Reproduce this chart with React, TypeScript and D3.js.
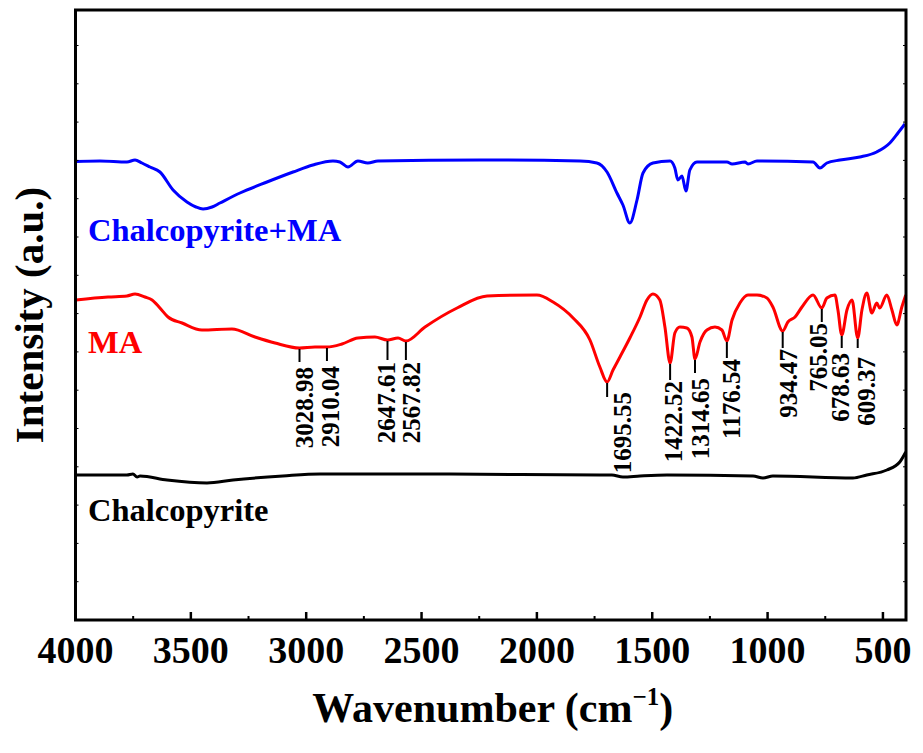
import React from "react"
import * as d3 from "d3"

// wavenumber (cm-1) / intensity (a.u.) pairs
const blueWave = [3998, 3894, 3777, 3742, 3712, 3677, 3634, 3577, 3517, 3478, 3447, 3408, 3374, 3287, 3170, 3057, 2971, 2884, 2854, 2819, 2776, 2733, 2689, 2247, 1813, 1740, 1696, 1653, 1627, 1597, 1566, 1540, 1497, 1423, 1402, 1389, 1371, 1354, 1337, 1306, 1176, 1154, 1098, 1085, 1046, 803, 773, 743, 686, 600, 527, 470, 435, 405]
const blueVal = [45.85, 45.9, 45.8, 46.0, 45.7, 45.3, 44.8, 43.0, 41.8, 41.3, 41.1, 41.3, 41.7, 42.7, 43.8, 44.8, 45.5, 45.9, 45.8, 45.3, 45.9, 45.7, 45.9, 46.0, 45.9, 45.7, 44.8, 42.7, 41.5, 39.7, 42.0, 44.7, 45.7, 45.9, 45.2, 44.0, 44.4, 42.9, 45.0, 45.8, 45.8, 45.6, 45.8, 45.6, 45.9, 45.8, 45.2, 45.7, 46.0, 46.3, 46.8, 47.7, 48.7, 49.6]

const redWave = [3998, 3859, 3777, 3742, 3699, 3668, 3634, 3599, 3538, 3452, 3322, 3222, 3135, 3028.98, 2962, 2910.04, 2845, 2776, 2702, 2647.61, 2602, 2567.82, 2485, 2346, 2216, 2000, 1930, 1843, 1770, 1727, 1695.55, 1670, 1640, 1597, 1553, 1523, 1497, 1467, 1445, 1422.52, 1402, 1380, 1350, 1328, 1314.65, 1293, 1263, 1228, 1198, 1176.54, 1154, 1120, 1085, 1046, 1003, 977, 934.47, 912, 881, 851, 803, 765.05, 743, 708, 695, 678.63, 656, 634, 609.37, 591, 570, 548, 527, 514, 483, 461, 440, 418, 401]
const redVal = [32.0, 32.3, 32.4, 32.6, 32.3, 32.0, 31.2, 30.3, 29.7, 29.0, 29.1, 28.3, 27.7, 27.2, 27.3, 27.3, 27.6, 28.2, 28.3, 28.0, 28.2, 27.9, 29.3, 31.2, 32.4, 32.5, 31.8, 30.2, 28.0, 25.3, 23.8, 25.0, 26.3, 28.2, 30.3, 32.0, 32.6, 32.0, 29.3, 25.7, 28.7, 29.3, 29.2, 28.3, 26.1, 27.8, 29.0, 29.3, 29.0, 27.9, 30.0, 31.7, 32.5, 32.5, 32.2, 31.3, 28.9, 29.8, 30.3, 31.3, 32.5, 31.2, 32.2, 32.5, 31.0, 28.5, 31.0, 32.0, 28.2, 31.0, 32.7, 30.7, 31.7, 31.2, 32.5, 31.0, 29.5, 31.3, 32.5]

const blackWave = [3998, 3777, 3751, 3733, 3720, 3603, 3430, 3317, 3101, 2940, 2377, 1727, 1675, 1627, 1553, 1436, 1063, 1020, 977, 630, 570, 483, 427, 401]
const blackVal = [14.5, 14.5, 14.6, 14.3, 14.4, 14.0, 13.7, 14.0, 14.4, 14.6, 14.6, 14.5, 14.5, 14.3, 14.4, 14.5, 14.4, 14.2, 14.4, 14.2, 14.5, 15.0, 15.8, 16.8]

const peaks = [3028.98, 2910.04, 2647.61, 2567.82, 1695.55, 1422.52, 1314.65, 1176.54, 934.47, 765.05, 678.63, 609.37]

const xTicks = [4000, 3500, 3000, 2500, 2000, 1500, 1000, 500]
const xMinorTicks = [3750, 3250, 2750, 2250, 1750, 1250, 750]

// hand placed label nudges: [dx, line length, gap to text]
const peakLayout = [
  [5, 14, 5], [3.5, 14, 5], [-1, 20, 2], [6, 19, 2], [15, 15, -5], [3, 17, 1],
  [6, 14, 5], [5, 17, 1], [6, 17, 1], [-3, 14, 1], [-1, 13, 5], [9, 10, 9],
]

const W = 923
const H = 753
const margin = { left: 75.5, right: 17, top: 10, bottom: 133 }
const serif = "'Liberation Serif', 'Times New Roman', serif"

export default function App() {
  const x = d3.scaleLinear().domain([4000, 400]).range([margin.left, W - margin.right])
  const y = d3.scaleLinear().domain([0, 61]).range([H - margin.bottom, margin.top])
  const yTicks = d3.range(3.83, 61, 3.83)

  const line = d3.line<[number, number]>()
    .x((d) => x(d[0]))
    .y((d) => y(d[1]))
    .curve(d3.curveMonotoneX)

  const series = [
    { wave: blueWave, val: blueVal, color: "#0000ff" },
    { wave: redWave, val: redVal, color: "#ff0000" },
    { wave: blackWave, val: blackVal, color: "#000000" },
  ]

  const x0 = x(4000)
  const x1 = x(400)
  const y0 = y(0)
  const y1 = y(61)

  return (
    <div style={{ position: "absolute", left: 0, top: 0 }}>
      <svg width={W} height={H} style={{ display: "block", background: "#fff" }} fontFamily={serif}>
        {series.map((s, i) => (
          <path
            key={i}
            d={line(s.wave.map((w, j) => [w, s.val[j]] as [number, number])) || ""}
            fill="none"
            stroke={s.color}
            strokeWidth={3}
            strokeLinejoin="round"
          />
        ))}

        {/* peak markers on the MA spectrum */}
        {peaks.map((p, i) => {
          const j = redWave.indexOf(p)
          const [dx, len, gap] = peakLayout[i]
          const px = x(p)
          const py = y(redVal[j])
          const ty = py + len + gap
          return (
            <g key={p}>
              <line x1={px} x2={px} y1={py + 1} y2={py + len} stroke="#000" strokeWidth={2} />
              <text
                transform={`translate(${px + dx},${ty}) rotate(-90)`}
                textAnchor="end"
                dominantBaseline="central"
                fontSize={25}
                fontWeight="bold"
              >
                {p.toFixed(2)}
              </text>
            </g>
          )
        })}

        {/* series labels */}
        <text x={88} y={241} fontSize={32.5} fontWeight="bold" fill="#0000ff">Chalcopyrite+MA</text>
        <text x={88} y={353} fontSize={32.5} fontWeight="bold" fill="#ff0000">MA</text>
        <text x={88} y={521} fontSize={32.5} fontWeight="bold" fill="#000">Chalcopyrite</text>

        {/* frame */}
        <rect x={x0} y={y1} width={x1 - x0} height={y0 - y1} fill="none" stroke="#000" strokeWidth={3} />

        {xTicks.map((t) => (
          <g key={t}>
            <line x1={x(t)} x2={x(t)} y1={y0} y2={y0 - 8} stroke="#000" strokeWidth={2.5} />
            <text x={x(t)} y={y0 + 43} textAnchor="middle" fontSize={38} fontWeight="bold">{t}</text>
          </g>
        ))}
        {xMinorTicks.map((t) => (
          <line key={t} x1={x(t)} x2={x(t)} y1={y0} y2={y0 - 4} stroke="#000" strokeWidth={2} />
        ))}
        {yTicks.map((t) => (
          <g key={t}>
            <line x1={x0} x2={x0 + 3} y1={y(t)} y2={y(t)} stroke="#000" strokeWidth={1} />
            <line x1={x1} x2={x1 - 3} y1={y(t)} y2={y(t)} stroke="#000" strokeWidth={1} />
          </g>
        ))}

        {/* axis titles */}
        <text x={(x0 + x1) / 2 + 2} y={722} textAnchor="middle" fontSize={42} fontWeight="bold">
          Wavenumber (cm
          <tspan dy={-17} fontSize={25}>−1</tspan>
          <tspan dy={17}>)</tspan>
        </text>
        <text
          transform={`translate(43,${(y0 + y1) / 2}) rotate(-90)`}
          textAnchor="middle"
          fontSize={41}
          fontWeight="bold"
        >
          Intensity (a.u.)
        </text>
      </svg>
    </div>
  )
}
